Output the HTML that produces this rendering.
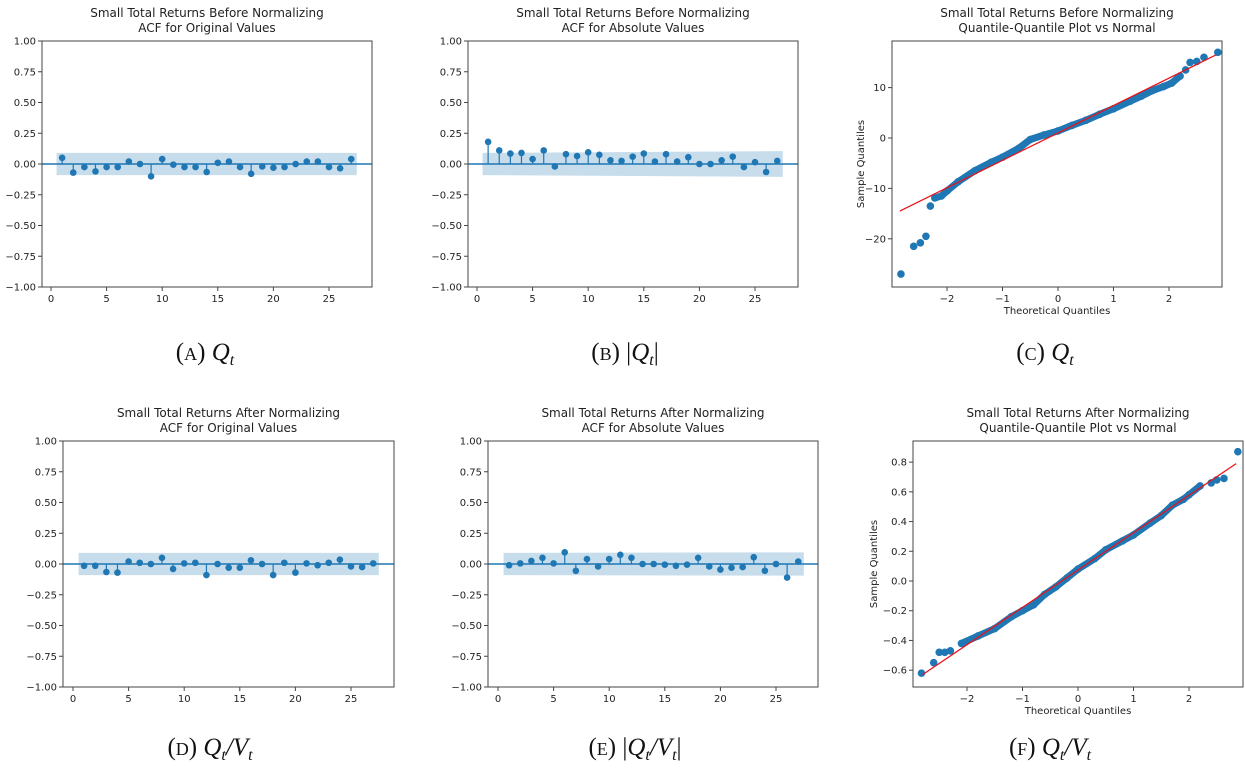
<!DOCTYPE html>
<html><head><meta charset="utf-8"><style>
html,body{margin:0;padding:0;background:#fff;}
svg{display:block;}
text{font-family:"DejaVu Sans","Liberation Sans",sans-serif;fill:#222;}
.cap{font-family:"Liberation Serif","DejaVu Serif",serif;font-size:25px;fill:#111;}
</style></head><body>
<svg id="fig" width="1245" height="771" viewBox="0 0 1245 771" xmlns="http://www.w3.org/2000/svg">
<text class="cap" x="205" y="360" text-anchor="middle">(<tspan font-size="18">A</tspan>) <tspan font-style="italic">Q<tspan font-size="16" dy="5">t</tspan></tspan></text>
<text class="cap" x="625" y="360" text-anchor="middle">(<tspan font-size="18">B</tspan>) |<tspan font-style="italic">Q<tspan font-size="16" dy="5">t</tspan></tspan><tspan dy="-5">|</tspan></text>
<text class="cap" x="1045" y="360" text-anchor="middle">(<tspan font-size="18">C</tspan>) <tspan font-style="italic">Q<tspan font-size="16" dy="5">t</tspan></tspan></text>
<text class="cap" x="210" y="755" text-anchor="middle">(<tspan font-size="18">D</tspan>) <tspan font-style="italic">Q<tspan font-size="16" dy="5">t</tspan><tspan dy="-5">/V</tspan><tspan font-size="16" dy="5">t</tspan></tspan></text>
<text class="cap" x="635" y="755" text-anchor="middle">(<tspan font-size="18">E</tspan>) |<tspan font-style="italic">Q<tspan font-size="16" dy="5">t</tspan><tspan dy="-5">/V</tspan><tspan font-size="16" dy="5">t</tspan></tspan><tspan dy="-5">|</tspan></text>
<text class="cap" x="1050" y="755" text-anchor="middle">(<tspan font-size="18">F</tspan>) <tspan font-style="italic">Q<tspan font-size="16" dy="5">t</tspan><tspan dy="-5">/V</tspan><tspan font-size="16" dy="5">t</tspan></tspan></text>
</svg>
<script>
const acfA=[0.05,-0.07,-0.025,-0.06,-0.025,-0.025,0.02,0,-0.10,0.04,-0.005,-0.025,-0.025,-0.065,0.01,0.02,-0.025,-0.08,-0.02,-0.03,-0.025,0,0.02,0.02,-0.025,-0.035,0.04];
const acfB=[0.18,0.11,0.085,0.09,0.04,0.11,-0.02,0.08,0.065,0.095,0.075,0.03,0.025,0.06,0.085,0.02,0.08,0.02,0.055,0,0,0.03,0.06,-0.025,0.015,-0.065,0.025];
const acfD=[-0.015,-0.015,-0.065,-0.07,0.02,0.01,0,0.05,-0.04,0.005,0.01,-0.09,0,-0.03,-0.03,0.03,0,-0.09,0.01,-0.07,0.005,-0.01,0.01,0.035,-0.02,-0.025,0.005];
const acfE=[-0.01,0.005,0.025,0.05,0.005,0.095,-0.055,0.04,-0.02,0.04,0.075,0.05,0,0,-0.005,-0.015,-0.005,0.05,-0.02,-0.045,-0.03,-0.025,0.055,-0.055,0,-0.11,0.02];
const bandA=[0.09,0.09];const bandB=[0.09,0.105];const bandD=[0.09,0.09];const bandE=[0.09,0.095];
const acfTicksY=[1,0.75,0.5,0.25,0,-0.25,-0.5,-0.75,-1];
const acfTicksX=[0,5,10,15,20,25];
const qqCx=[-2.83,-2.6,-2.48,-2.38,-2.3,-2.22,-2.1,-2.0,-1.8,-1.5,-1.2,-1.0,-0.7,-0.5,-0.25,0,0.25,0.5,0.75,1.0,1.3,1.5,1.7,1.9,2.05,2.2,2.3,2.38,2.5,2.63,2.88];
const qqCy=[-27,-21.5,-20.8,-19.5,-13.5,-11.9,-11.5,-10.5,-8.7,-6.5,-4.8,-3.8,-2.0,-0.3,0.6,1.4,2.5,3.5,4.7,5.8,7.3,8.3,9.4,10.2,10.9,12.3,13.5,15,15.2,16,17];
const qqCline=[-2.85,-14.5,2.85,16.5];
const qqFx=[-2.82,-2.6,-2.5,-2.4,-2.3,-2.1,-1.8,-1.5,-1.2,-1.0,-0.8,-0.6,-0.4,-0.2,0,0.3,0.5,0.8,1.0,1.3,1.5,1.7,1.9,2.0,2.2,2.4,2.5,2.63,2.88];
const qqFy=[-0.62,-0.55,-0.48,-0.48,-0.47,-0.42,-0.37,-0.32,-0.24,-0.2,-0.16,-0.09,-0.04,0.02,0.08,0.15,0.21,0.27,0.31,0.39,0.44,0.51,0.55,0.58,0.64,0.66,0.68,0.69,0.87];
const qqFline=[-2.8,-0.63,2.85,0.79];
const qqCTicksY=[10,0,-10,-20];const qqFTicksY=[0.8,0.6,0.4,0.2,0,-0.2,-0.4,-0.6];const qqTicksX=[-2,-1,0,1,2];

const NS='http://www.w3.org/2000/svg';const svg=document.getElementById('fig');
function mk(tag,at,parent){const e=document.createElementNS(NS,tag);for(const k in at)e.setAttribute(k,at[k]);(parent||svg).appendChild(e);return e;}
function fmt(v,d){const s=Math.abs(v).toFixed(d);return (v<0?'\u2212':'')+s;}
function frame(g,L,R,T,B,t1,t2){
  const a=mk('text',{x:(L+R)/2,y:T-24,'text-anchor':'middle','font-size':'12'},g);a.textContent=t1;
  
  const b=mk('text',{x:(L+R)/2,y:T-9,'text-anchor':'middle','font-size':'12'},g);b.textContent=t2;
  
}
function box(g,L,R,T,B){const r=mk('rect',{x:L,y:T,width:R-L,height:B-T,fill:'none',stroke:'#444','stroke-width':1},g);
  }
function yticks(g,L,ticks,sy,d){ticks.forEach(v=>{const y=sy(v);mk('line',{x1:L-4,x2:L,y1:y,y2:y,stroke:'#444'},g);
  const t=mk('text',{x:L-6,y:y+3.5,'text-anchor':'end','font-size':'10'},g);t.textContent=fmt(v,d);
  });}
function xticks(g,B,ticks,sx,lab){ticks.forEach(v=>{const x=sx(v);mk('line',{x1:x,x2:x,y1:B,y2:B+4,stroke:'#444'},g);
  const t=mk('text',{x:x,y:B+15,'text-anchor':'middle','font-size':'10'},g);t.textContent=lab(v);
  });}
function acf(name,L,R,T,B,x0,x25,vals,band,t1,t2){
  const g=mk('g',{});
  const sx=v=>x0+(x25-x0)*v/25, sy=v=>(T+B)/2-(B-T)/2*v;
  frame(g,L,R,T,B,t1,t2);
  const p=mk('polygon',{points:`${sx(0.5)},${sy(band[0])} ${sx(27.5)},${sy(band[1])} ${sx(27.5)},${sy(-band[1])} ${sx(0.5)},${sy(-band[0])}`,fill:'#1f77b4','fill-opacity':0.25},g);
  
  const z=mk('line',{x1:L,x2:R,y1:sy(0),y2:sy(0),stroke:'#1f77b4','stroke-width':1.5},g);
  
  vals.forEach((v,i)=>{const x=sx(i+1);
    const s=mk('line',{x1:x,x2:x,y1:sy(0),y2:sy(v),stroke:'#1f77b4','stroke-width':1.2},g);
    
    const c=mk('circle',{cx:x,cy:sy(v),r:3.3,fill:'#1f77b4'},g);
    });
  box(g,L,R,T,B);yticks(g,L,acfTicksY,sy,2);xticks(g,B,acfTicksX,sx,v=>String(v));
}
function qq(name,L,R,T,B,sx,sy,xs,ys,line,ty,d,t1,t2){
  const g=mk('g',{});
  frame(g,L,R,T,B,t1,t2);
  const core=xs.map((x,i)=>[x,ys[i]]).filter(p=>p[0]>=-2.25&&p[0]<=2.25);
  const pl=mk('polyline',{points:core.map(p=>sx(p[0])+','+sy(p[1])).join(' '),fill:'none',stroke:'#1f77b4','stroke-width':7,'stroke-linecap':'round','stroke-linejoin':'round'},g);
  
  xs.forEach((x,i)=>{const c=mk('circle',{cx:sx(x),cy:sy(ys[i]),r:3.8,fill:'#1f77b4'},g);
    });
  const rl=mk('line',{x1:sx(line[0]),y1:sy(line[1]),x2:sx(line[2]),y2:sy(line[3]),stroke:'#e8141c','stroke-width':1.3},g);
  
  box(g,L,R,T,B);yticks(g,L,ty,sy,d);xticks(g,B,qqTicksX,sx,v=>fmt(v,0));
  const xl=mk('text',{x:(L+R)/2,y:B+27,'text-anchor':'middle','font-size':'10'},g);xl.textContent='Theoretical Quantiles';
  
  const yl=mk('text',{x:L-(d?36:28),y:(T+B)/2,'text-anchor':'middle','font-size':'10',transform:`rotate(-90 ${L-(d?36:28)} ${(T+B)/2})`},g);yl.textContent='Sample Quantiles';
  
}
acf('acf-panel-a',42,372,41,287,51,329,acfA,bandA,'Small Total Returns Before Normalizing','ACF for Original Values');
acf('acf-panel-b',468,798,41,287,477,755,acfB,bandB,'Small Total Returns Before Normalizing','ACF for Absolute Values');
acf('acf-panel-d',63,394,441,687,73,351,acfD,bandD,'Small Total Returns After Normalizing','ACF for Original Values');
acf('acf-panel-e',488,818,441,687,498,776,acfE,bandE,'Small Total Returns After Normalizing','ACF for Absolute Values');
qq('qq-panel-c',892,1222,41,287,v=>1058+55.5*v,v=>138-5.04*v,qqCx,qqCy,qqCline,qqCTicksY,0,'Small Total Returns Before Normalizing','Quantile-Quantile Plot vs Normal');
qq('qq-panel-f',913,1243,441,687,v=>1078+55.5*v,v=>581-148.6*v,qqFx,qqFy,qqFline,qqFTicksY,1,'Small Total Returns After Normalizing','Quantile-Quantile Plot vs Normal');
</script>
</body></html>
